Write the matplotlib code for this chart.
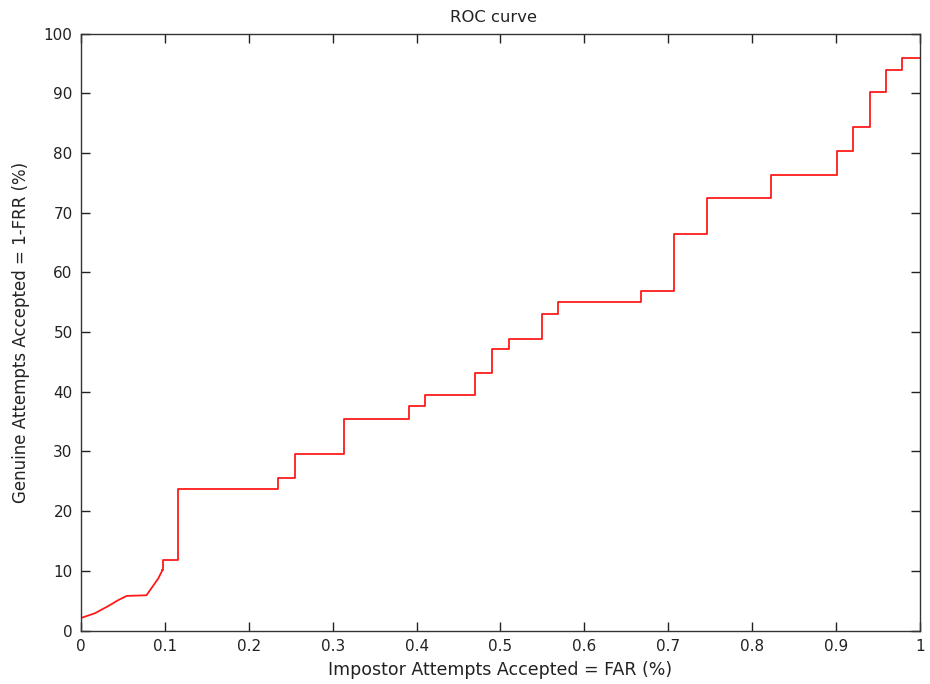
import numpy as np
import matplotlib
matplotlib.use("Agg")
import matplotlib.pyplot as plt

plt.rcParams['font.family'] = ['DejaVu Sans']

# Smooth low-threshold part of the ROC curve
far_ramp = [0.0, 0.0167, 0.0325, 0.0445, 0.0545, 0.078, 0.084, 0.092, 0.097]
gar_ramp = [2.1, 2.9, 4.1, 5.1, 5.8, 5.9, 7.1, 8.7, 10.1]

# Staircase part: FAR where each step begins and the accepted-genuine level
far_steps = [0.097, 0.098, 0.116, 0.235, 0.255, 0.313, 0.391, 0.410, 0.470, 0.490,
             0.510, 0.549, 0.568, 0.667, 0.707, 0.746, 0.823, 0.901, 0.920,
             0.940, 0.960, 0.979, 1.0]
gar_steps = [10.1, 11.8, 23.7, 25.6, 29.5, 35.4, 37.6, 39.4, 43.1, 47.1,
             48.9, 53.0, 55.0, 56.9, 66.5, 72.5, 76.3, 80.4, 84.4,
             90.3, 94.0, 95.9, 95.9]

x_ticks = [0, 0.1, 0.2, 0.3, 0.4, 0.5, 0.6, 0.7, 0.8, 0.9, 1]
x_tick_labels = ['0', '0.1', '0.2', '0.3', '0.4', '0.5', '0.6', '0.7', '0.8', '0.9', '1']
y_ticks = list(range(0, 101, 10))

fig = plt.figure(figsize=(9.3, 6.84), dpi=100)
ax = fig.add_axes([0.0871, 0.0782, 0.9021, 0.8725])

ax.plot(far_ramp, gar_ramp, color='#ff1a1a', lw=1.3)
ax.plot(far_steps, gar_steps, color='#ff1a1a', lw=1.3, drawstyle='steps-post')

ax.set_xlim(0, 1)
ax.set_ylim(0, 100)
ax.set_xticks(x_ticks)
ax.set_xticklabels(x_tick_labels)
ax.set_yticks(y_ticks)

ax.tick_params(direction='in', length=6.5, width=1, colors='#222222',
               labelsize=11, top=True, right=True)
ax.tick_params(axis='y', pad=6)
ax.tick_params(axis='x', pad=6)
for sp in ax.spines.values():
    sp.set_color('#333333')
    sp.set_linewidth(1.0)

ax.set_title('ROC curve', fontsize=11.8, pad=8.5, x=0.492, color='#222222')
ax.set_xlabel('Impostor Attempts Accepted = FAR (%)', fontsize=12.5, labelpad=5, color='#222222')
ax.set_ylabel('Genuine Attempts Accepted = 1-FRR (%)', fontsize=12, labelpad=10, color='#222222')

fig.savefig('out.png', dpi=100, facecolor='white')
